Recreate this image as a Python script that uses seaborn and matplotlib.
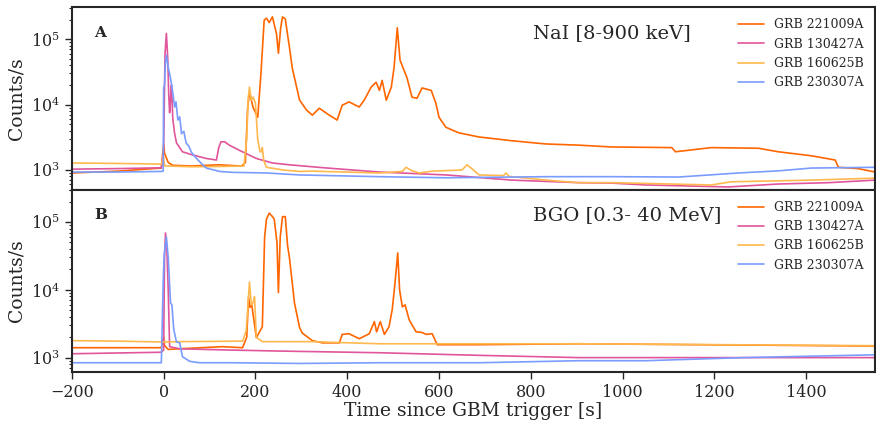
import numpy as np
import pandas as pd
import matplotlib
matplotlib.use("Agg")
import matplotlib.pyplot as plt
import seaborn as sns

sns.set_theme(style="ticks")
plt.rcParams["font.family"] = ["DejaVu Serif"]
plt.rcParams["mathtext.fontset"] = "dejavuserif"

grb_names = ["GRB 221009A", "GRB 130427A", "GRB 160625B", "GRB 230307A"]
grb_colors = ["#ff6600", "#e0559b", "#ffb84d", "#7b9cff"]

# ---------------- NaI [8-900 keV] light curves ----------------
nai_221009a_t = [-200, -100, -5, 0, 2, 10, 20, 60, 120, 170, 178, 183, 187, 195, 205,
                 212, 219, 224, 230, 237, 246, 250, 255, 259, 265, 274, 280, 296, 311,
                 324, 339, 361, 378, 389, 404, 426, 437, 452, 463, 470, 476, 485, 496,
                 502, 509, 515, 524, 530, 541, 552, 563, 583, 593, 600, 615, 643, 687,
                 759, 833, 904, 976, 1107, 1115, 1193, 1296, 1339, 1411, 1463, 1470,
                 1513, 1550]
nai_221009a_c = [900, 960, 1070, 2500, 1800, 1300, 1180, 1150, 1200, 1150, 1300, 9000,
                 15500, 9000, 6400, 30000, 195000, 210000, 180000, 220000, 120000, 61000,
                 150000, 220000, 205000, 76000, 37000, 11800, 8300, 6900, 8800, 6900,
                 5800, 9800, 11000, 9200, 11700, 18500, 22000, 16500, 23500, 11700, 18500,
                 37000, 150000, 48000, 33000, 26000, 13000, 12500, 18000, 16500, 10500,
                 6400, 4500, 3700, 3200, 2800, 2500, 2400, 2250, 2200, 1900, 2200, 2150,
                 1900, 1650, 1420, 1100, 1050, 930]

nai_130427a_t = [-200, -100, -5, 0, 3, 6, 9, 11, 13, 15, 17, 20, 24, 28, 41, 63, 93,
                 115, 120, 125, 133, 143, 165, 202, 237, 274, 350, 470, 615, 759, 904,
                 976, 1050, 1230, 1339, 1450, 1550]
nai_130427a_c = [1030, 1050, 1080, 2000, 60000, 123000, 50000, 15000, 7500, 12000,
                 20000, 6000, 3600, 2600, 1900, 1700, 1500, 1420, 2200, 2700, 2700, 2400,
                 2000, 1500, 1280, 1200, 1080, 930, 840, 700, 640, 630, 590, 550, 610,
                 640, 700]

nai_160625b_t = [-200, -100, -5, 0, 1, 3, 10, 60, 120, 175, 181, 184, 187, 191, 195,
                 200, 205, 210, 213, 215, 218, 224, 260, 296, 324, 470, 520, 528, 540,
                 557, 585, 650, 661, 675, 687, 740, 746, 752, 759, 833, 904, 976, 1193,
                 1237, 1411, 1550]
nai_160625b_c = [1280, 1260, 1230, 1600, 1300, 1150, 1150, 1120, 1130, 1150, 3000,
                 12000, 18500, 11700, 13000, 10500, 2900, 1900, 1900, 2200, 1400, 1100,
                 1000, 950, 960, 900, 950, 1100, 980, 900, 960, 1000, 1200, 1000, 840,
                 820, 900, 800, 790, 700, 640, 640, 590, 660, 700, 750]

nai_230307a_t = [-200, -100, -5, -1, 0, 2, 4, 6, 10, 13, 17, 20, 24, 27, 31, 35, 39,
                 44, 49, 55, 60, 68, 75, 85, 93, 122, 150, 224, 296, 470, 615, 833, 976,
                 1122, 1252, 1339, 1411, 1550]
nai_230307a_c = [930, 930, 950, 960, 18000, 20000, 45000, 57000, 37000, 30000, 21000,
                 15000, 9200, 11000, 5800, 6500, 3600, 3900, 2600, 2300, 1900, 1600, 1420,
                 1200, 1070, 950, 920, 900, 840, 790, 760, 790, 790, 780, 900, 970, 1070,
                 1100]

# ---------------- BGO [0.3-40 MeV] light curves ----------------
bgo_221009a_t = [-200, -100, -5, 0, 2, 10, 35, 128, 172, 181, 185, 188, 192, 202, 215,
                 220, 224, 230, 235, 241, 247, 250, 254, 259, 265, 270, 274, 280, 285,
                 296, 302, 324, 346, 383, 389, 404, 426, 448, 459, 464, 472, 481, 491,
                 498, 504, 510, 514, 520, 526, 535, 550, 563, 572, 585, 596, 615, 687,
                 904, 1550]
bgo_221009a_c = [1400, 1400, 1400, 2000, 1500, 1320, 1350, 1450, 1400, 2000, 7900, 5500,
                 6000, 1970, 2850, 60000, 110000, 135000, 125000, 110000, 49000, 9100,
                 60000, 120000, 120000, 45000, 30000, 13000, 6400, 2800, 2300, 1780,
                 1650, 1650, 2200, 2250, 1900, 2250, 3400, 2400, 3400, 2200, 2850, 5100,
                 12500, 35000, 10000, 5600, 6000, 3600, 2400, 2350, 2200, 2250, 1550,
                 1550, 1550, 1600, 1480]

bgo_130427a_t = [-200, -100, -5, 0, 2, 4, 7, 10, 13, 35, 128, 250, 470, 687, 904, 1200,
                 1550]
bgo_130427a_c = [1140, 1170, 1200, 1300, 30000, 69000, 40000, 10000, 1450, 1350, 1300,
                 1250, 1180, 1080, 1000, 1000, 1000]

bgo_160625b_t = [-200, -100, -5, 0, 35, 172, 180, 187, 191, 195, 198, 202, 215, 324,
                 470, 687, 904, 1550]
bgo_160625b_c = [1780, 1750, 1700, 1700, 1720, 1750, 2500, 13000, 6000, 6500, 7900,
                 2000, 1720, 1720, 1600, 1600, 1600, 1500]

bgo_230307a_t = [-200, -100, -5, -1, 1, 6, 10, 15, 18, 22, 28, 35, 41, 57, 78, 150, 296,
                 470, 687, 904, 1050, 1264, 1550]
bgo_230307a_c = [840, 840, 840, 12600, 32000, 60000, 30000, 6400, 6000, 2600, 1700,
                 1650, 1030, 880, 840, 840, 820, 840, 840, 900, 900, 1000, 1100]


def long_frame(series):
    parts = []
    for name, t, c in series:
        parts.append(pd.DataFrame({"t": t, "c": c, "grb": name}))
    return pd.concat(parts, ignore_index=True)


nai_df = long_frame([
    (grb_names[0], nai_221009a_t, nai_221009a_c),
    (grb_names[1], nai_130427a_t, nai_130427a_c),
    (grb_names[2], nai_160625b_t, nai_160625b_c),
    (grb_names[3], nai_230307a_t, nai_230307a_c),
])
bgo_df = long_frame([
    (grb_names[0], bgo_221009a_t, bgo_221009a_c),
    (grb_names[1], bgo_130427a_t, bgo_130427a_c),
    (grb_names[2], bgo_160625b_t, bgo_160625b_c),
    (grb_names[3], bgo_230307a_t, bgo_230307a_c),
])

fig, (ax1, ax2) = plt.subplots(2, 1, figsize=(8.76, 4.21), dpi=100, sharex=True)
fig.subplots_adjust(left=0.082, right=0.999, top=0.983, bottom=0.116, hspace=0)

palette = dict(zip(grb_names, grb_colors))
panels = [
    (ax1, nai_df, "NaI [8-900 keV]", "A", (500, 3.1e5)),
    (ax2, bgo_df, "BGO [0.3- 40 MeV]", "B", (610, 3.0e5)),
]
for ax, df, title, letter, ylim in panels:
    sns.lineplot(data=df, x="t", y="c", hue="grb", hue_order=grb_names,
                 palette=palette, estimator=None, sort=False, lw=1.2, ax=ax)
    ax.set_yscale("log")
    ax.set_ylim(*ylim)
    ax.set_xlim(-200, 1550)
    ax.set_ylabel("Counts/s", fontsize=13.5)
    ax.set_xlabel("")
    ax.text(0.574, 0.86, title, transform=ax.transAxes, fontsize=14,
            ha="left", va="center")
    ax.text(0.028, 0.86, letter, transform=ax.transAxes, fontsize=11,
            fontweight="bold", ha="left", va="center")
    ax.legend(loc="upper right", frameon=False, fontsize=9, handlelength=2.1)
    for side in ax.spines.values():
        side.set_linewidth(1.5)
        side.set_visible(True)
    ax.tick_params(axis="both", which="major", labelsize=11.5, length=5, width=1)
    ax.tick_params(axis="y", which="minor", length=2.5, width=0.8)

ax1.tick_params(axis="x", labelbottom=False)
ax2.set_xticks([-200, 0, 200, 400, 600, 800, 1000, 1200, 1400])
ax2.set_xlabel("Time since GBM trigger [s]", fontsize=13.5, labelpad=1)

fig.savefig("out.png", dpi=100)
